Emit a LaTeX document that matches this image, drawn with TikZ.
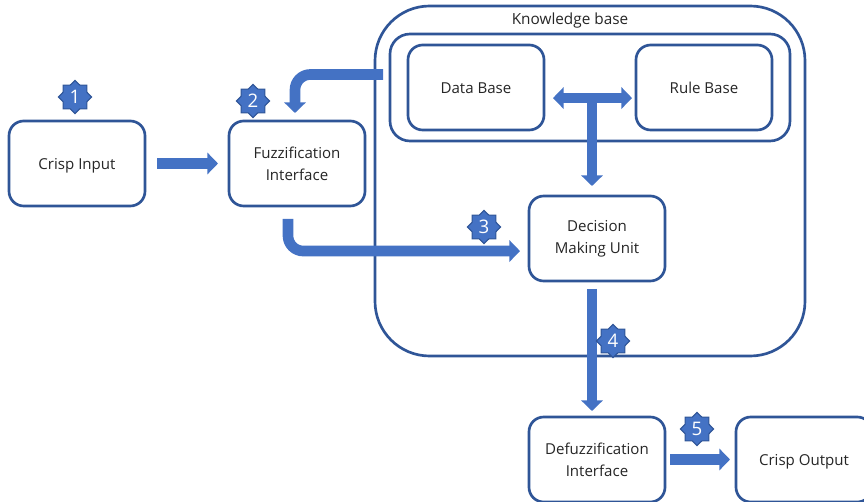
\documentclass[tikz,border=0pt]{standalone}
\usepackage{fontspec}
\setmainfont{Open Sans}
\usetikzlibrary{fit,positioning,arrows.meta,shapes.geometric}
\definecolor{framecol}{HTML}{2F5597}
\definecolor{flowcol}{HTML}{4472C4}

\begin{document}
\begin{tikzpicture}[x=0.75pt,y=-0.75pt]
\tikzstyle{unit}=[rectangle, rounded corners=11pt, line width=2pt, draw=framecol, fill=white, outer sep=0pt, minimum width=102pt, minimum height=63.75pt, align=center, font=\fontsize{11.3}{16.5}\selectfont, text=black!85]
\tikzstyle{oneline}=[unit, text height=14.5pt, text depth=5pt]
\tikzstyle{frame}=[rectangle, line width=2pt, draw=framecol, outer sep=0pt]
\tikzstyle{flow}=[line width=8pt, draw=flowcol, -{Triangle[width=16pt,length=8pt]}]
\tikzstyle{badge}=[star, star points=8, star point ratio=1.3, minimum size=25pt, inner sep=0pt, fill=flowcol, draw=framecol, line width=0.8pt, text=white, font=\fontsize{14}{14}\selectfont]
  \useasboundingbox (0,0) rectangle (864,502);
  \clip (0,0) rectangle (864,502);
  \node[frame, rounded corners=41pt, minimum width=322.5pt, minimum height=262.5pt] (kb) at (590,181) {};
  \node[font=\fontsize{11.5}{12}\selectfont, text=black!85] (kblabel) at (570,21) {Knowledge base};
  \node[oneline] (crisp) at (77,163.5) {Crisp Input};
  \node[unit] (fuzz) [right=63pt of crisp] {Fuzzification\\Interface};
  \node[oneline] (data) at (476,87.5) {Data Base};
  \node[oneline] (rule) [right=69pt of data] {Rule Base};
  \node[frame, rounded corners=15pt, inner xsep=13.5pt, inner ysep=8.25pt, fit= (data) (rule)] (stores) {};
  \node[unit] (decision) at (597,238.5) {Decision\\Making Unit};
  \node[unit] (defuzz) [below=102pt of decision] {Defuzzification\\Interface};
  \node[oneline] (output) [right=53.25pt of defuzz] {Crisp Output};
  \coordinate (kbout) at (383,74.5);
  \coordinate (stem) at (592,98);
  \draw[flow, shorten <=9pt, shorten >=8.25pt] (crisp.east) -- (fuzz.west);
  \draw[flow, rounded corners=11.5pt, shorten >=6pt] (kbout) -| ([xshift=-1.5pt]fuzz.north);
  \draw[flow, rounded corners=11.5pt, shorten <=9.75pt, shorten >=6.75pt] ([xshift=-6.75pt]fuzz.south) |- ([yshift=-9.4pt]decision.west);
  \draw[flow, {Triangle[width=16pt,length=8pt]}-{Triangle[width=16pt,length=8pt]}, shorten <=6.75pt, shorten >=3pt] ([yshift=-7.9pt]data.east) -- ([yshift=-7.9pt]rule.west);
  \draw[flow, shorten >=7.5pt] (stem) -- (stem |- decision.north);
  \draw[flow, shorten <=6pt, shorten >=4.5pt] (stem |- decision.south) -- (stem |- defuzz.north);
  \draw[flow, shorten <=3.75pt, shorten >=4.5pt] (defuzz.east) -- (output.west);
  \node[badge] (b1) at (75,97) {1};
  \node[badge] (b2) at (253,101) {2};
  \node[badge] (b3) at (484,227) {3};
  \node[badge] (b4) at (613,341) {4};
  \node[badge] (b5) at (697,429) {5};
\end{tikzpicture}
\end{document}
